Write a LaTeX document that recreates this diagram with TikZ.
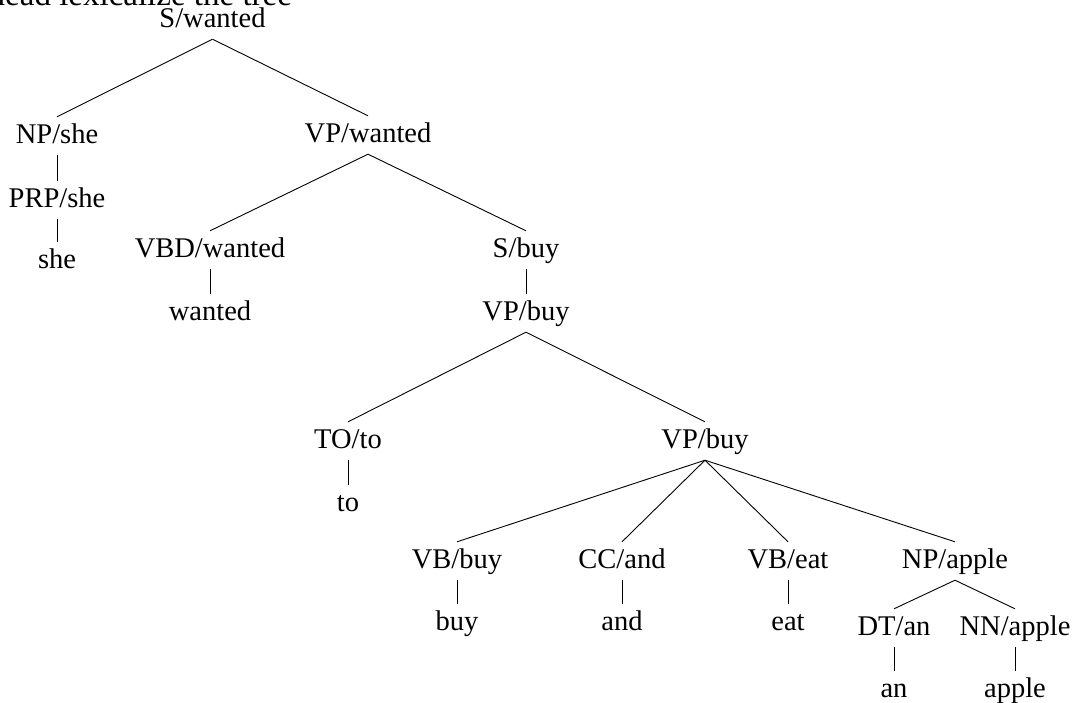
\documentclass[tikz,border=0pt]{standalone}
\usepackage{fontspec}
\setmainfont{Liberation Serif}
\begin{document}
\begin{tikzpicture}[x=1pt,y=-1pt,
  lbl/.style={anchor=base,inner sep=0pt,text height=26pt,text depth=12pt,
    font=\fontsize{28.5}{30}\selectfont},
  edge/.style={draw=black,line width=0.9pt}]
\useasboundingbox (0,0) rectangle (1076,702);
\clip (0,0) rectangle (1076,702);

% caption above the tree
\node[anchor=base west,inner sep=0pt,font=\fontsize{33}{36}\selectfont] (title) at (-11.5,5) {head lexicalize the tree};

% tree labels
\node[lbl] (s) at (212.5,27) {S/wanted};
\node[lbl] (npshe) at (57,143) {NP/she};
\node[lbl] (vpw) at (368,142) {VP/wanted};
\node[lbl] (prp) at (57,207) {PRP/she};
\node[lbl] (she) at (57,268) {she};
\node[lbl] (vbd) at (210,257) {VBD/wanted};
\node[lbl] (sbuy) at (526,257) {S/buy};
\node[lbl] (wanted) at (210,320) {wanted};
\node[lbl] (vpbuy) at (526,320) {VP/buy};
\node[lbl] (to) at (348,448) {TO/to};
\node[lbl] (vpbuyb) at (705,448) {VP/buy};
\node[lbl] (tow) at (348,511) {to};
\node[lbl] (vbbuy) at (457,568) {VB/buy};
\node[lbl] (cc) at (622,568) {CC/and};
\node[lbl] (vbeat) at (788,568) {VB/eat};
\node[lbl] (np) at (955,568) {NP/apple};
\node[lbl] (buy) at (457,630) {buy};
\node[lbl] (and) at (622,630) {and};
\node[lbl] (eat) at (788,630) {eat};
\node[lbl] (dt) at (894,635) {DT/an};
\node[lbl] (nn) at (1015,635) {NN/apple};
\node[lbl] (an) at (894,697) {an};
\node[lbl] (apple) at (1015,697) {apple};

% branches
\draw[edge] (s.south) -- (npshe.north);
\draw[edge] (s.south) -- (vpw.north);
\draw[edge] (npshe.south) -- (prp.north);
\draw[edge] (prp.south) -- (she.north);
\draw[edge] (vpw.south) -- (vbd.north);
\draw[edge] (vpw.south) -- (sbuy.north);
\draw[edge] (vbd.south) -- (wanted.north);
\draw[edge] (sbuy.south) -- (vpbuy.north);
\draw[edge] (vpbuy.south) -- (to.north);
\draw[edge] (vpbuy.south) -- (vpbuyb.north);
\draw[edge] (to.south) -- (tow.north);
\draw[edge] (vpbuyb.south) -- (vbbuy.north);
\draw[edge] (vpbuyb.south) -- (cc.north);
\draw[edge] (vpbuyb.south) -- (vbeat.north);
\draw[edge] (vpbuyb.south) -- (np.north);
\draw[edge] (vbbuy.south) -- (buy.north);
\draw[edge] (cc.south) -- (and.north);
\draw[edge] (vbeat.south) -- (eat.north);
\draw[edge] (np.south) -- (dt.north);
\draw[edge] (np.south) -- (nn.north);
\draw[edge] (dt.south) -- (an.north);
\draw[edge] (nn.south) -- (apple.north);
\end{tikzpicture}
\end{document}
